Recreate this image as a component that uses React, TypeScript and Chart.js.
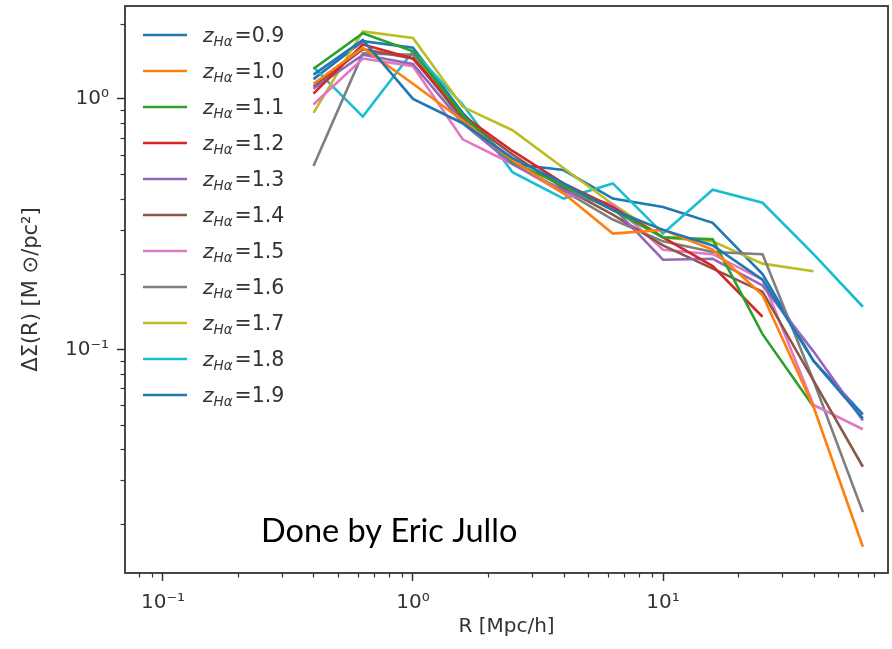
import React, { useEffect, useRef } from "react";
import { Chart, registerables } from "chart.js";

Chart.register(...registerables);

// Radii (Mpc/h) at which the profiles are sampled
const radii = [0.4, 0.63, 1.0, 1.58, 2.5, 4.0, 6.3, 10, 15.8, 25, 40, 63];

// Redshift labels for the legend
const redshifts = ["0.9", "1.0", "1.1", "1.2", "1.3", "1.4", "1.5", "1.6", "1.7", "1.8", "1.9"];

// ΔΣ(R) series, one per redshift bin
const dz09 = [1.25, 1.72, 1.0, 0.8, 0.58, 0.46, 0.36, 0.3, 0.26, 0.19, 0.09, 0.053];
const dz10 = [1.15, 1.6, 1.15, 0.82, 0.57, 0.42, 0.29, 0.3, 0.25, 0.165, 0.059, 0.0163];
const dz11 = [1.32, 1.83, 1.55, 0.86, 0.56, 0.45, 0.36, 0.28, 0.275, 0.115, 0.059];
const dz12 = [1.05, 1.65, 1.45, 0.86, 0.62, 0.46, 0.37, 0.28, 0.215, 0.135];
const dz13 = [1.1, 1.5, 1.38, 0.8, 0.55, 0.43, 0.37, 0.228, 0.23, 0.18, 0.098, 0.052];
const dz14 = [1.12, 1.58, 1.45, 0.84, 0.6, 0.44, 0.345, 0.26, 0.21, 0.17, 0.075, 0.034];
const dz15 = [0.95, 1.45, 1.35, 0.69, 0.55, 0.42, 0.38, 0.25, 0.24, 0.19, 0.06, 0.048];
const dz16 = [0.54, 1.52, 1.5, 0.82, 0.55, 0.43, 0.33, 0.27, 0.245, 0.24, 0.075, 0.0224];
const dz17 = [0.88, 1.86, 1.75, 0.93, 0.75, 0.53, 0.38, 0.28, 0.27, 0.22, 0.205];
const dz18 = [1.34, 0.85, 1.55, 0.95, 0.51, 0.4, 0.46, 0.29, 0.434, 0.385, 0.24, 0.148];
const dz19 = [1.2, 1.7, 1.6, 0.88, 0.55, 0.52, 0.4, 0.37, 0.32, 0.2, 0.09, 0.055];

const allSeries = [dz09, dz10, dz11, dz12, dz13, dz14, dz15, dz16, dz17, dz18, dz19];

const seriesColors = [
  "#1f77b4", "#ff7f0e", "#2ca02c", "#d62728", "#9467bd", "#8c564b",
  "#e377c2", "#7f7f7f", "#bcbd22", "#17becf", "#1f77b4",
];

// Axes
const xMin = 0.0705;
const xMax = 79.4;
const yMin = 0.0128;
const yMax = 2.35;
const xTickValues = [0.1, 1, 10];
const xTickLabels = ["10⁻¹", "10⁰", "10¹"];
const yTickValues = [0.1, 1];
const yTickLabels = ["10⁻¹", "10⁰"];
const xTitle = "R [Mpc/h]";
const yTitle = "ΔΣ(R) [M ⊙/pc²]";
const annotation = "Done by Eric Jullo";

const TEXT = "#333333";
const FONT = "'DejaVu Sans', sans-serif";

export default function App() {
  const canvasRef = useRef<HTMLCanvasElement | null>(null);

  useEffect(() => {
    document.body.style.margin = "0";
    const canvas = canvasRef.current;
    if (!canvas) return;

    const decorPlugin = {
      id: "decor",
      afterDraw(chart: any) {
        const { ctx, chartArea } = chart;
        const { left, top, right, bottom } = chartArea;
        const xs = chart.scales.x;
        const ys = chart.scales.y;
        ctx.save();

        // minor ticks
        ctx.strokeStyle = TEXT;
        ctx.lineWidth = 1.2;
        for (let e = -3; e <= 3; e++) {
          for (let m = 2; m <= 9; m++) {
            const v = m * Math.pow(10, e);
            if (v > xs.min && v < xs.max) {
              const px = Math.round(xs.getPixelForValue(v)) + 0.5;
              ctx.beginPath();
              ctx.moveTo(px, bottom);
              ctx.lineTo(px, bottom + 4.5);
              ctx.stroke();
            }
            if (v > ys.min && v < ys.max) {
              const py = Math.round(ys.getPixelForValue(v)) + 0.5;
              ctx.beginPath();
              ctx.moveTo(left, py);
              ctx.lineTo(left - 4.5, py);
              ctx.stroke();
            }
          }
        }

        // frame
        ctx.strokeStyle = TEXT;
        ctx.lineWidth = 1.8;
        ctx.strokeRect(left, top, right - left, bottom - top);

        // legend
        chart.data.datasets.forEach((ds: any, i: number) => {
          const cy = top + 29 + 36 * i;
          ctx.strokeStyle = ds.borderColor;
          ctx.lineWidth = 2.6;
          ctx.beginPath();
          ctx.moveTo(left + 18, cy);
          ctx.lineTo(left + 62, cy);
          ctx.stroke();

          ctx.fillStyle = TEXT;
          ctx.textBaseline = "alphabetic";
          ctx.textAlign = "left";
          const base = cy + 7;
          let x = left + 78;
          ctx.font = `italic 20px ${FONT}`;
          ctx.fillText("z", x, base);
          x += ctx.measureText("z").width;
          ctx.font = `italic 13.5px ${FONT}`;
          ctx.fillText("Hα", x, base + 4);
          x += ctx.measureText("Hα").width + 2;
          ctx.font = `20.5px ${FONT}`;
          ctx.fillText("=" + redshifts[i], x, base);
        });

        // annotation
        ctx.fillStyle = "#000000";
        ctx.font = "32.5px Lato, 'Open Sans', sans-serif";
        ctx.textAlign = "left";
        ctx.textBaseline = "alphabetic";
        ctx.fillText(annotation, left + 136, bottom - 31);

        ctx.restore();
      },
    };

    const chart = new Chart(canvas, {
      type: "line",
      data: {
        datasets: allSeries.map((s, i) => ({
          label: "zHα=" + redshifts[i],
          data: s.map((v, j) => ({ x: radii[j], y: v })),
          borderColor: seriesColors[i],
          backgroundColor: seriesColors[i],
          borderWidth: 2.6,
          pointRadius: 0,
          tension: 0,
          fill: false,
        })),
      },
      options: {
        responsive: false,
        animation: false,
        events: [],
        layout: { padding: { left: 0, top: 6, right: 4, bottom: 0 } },
        plugins: {
          legend: { display: false },
          tooltip: { enabled: false },
        },
        scales: {
          x: {
            type: "logarithmic",
            min: xMin,
            max: xMax,
            afterBuildTicks: (s: any) => {
              s.ticks = xTickValues.map((v) => ({ value: v }));
            },
            afterFit: (s: any) => {
              s.height = 76;
              s.paddingLeft = 0;
              s.paddingRight = 0;
            },
            ticks: {
              autoSkip: false,
              maxRotation: 0,
              padding: 10,
              color: TEXT,
              font: { family: FONT, size: 20 },
              callback: (v: any) => {
                const k = xTickValues.indexOf(Number(v));
                return k >= 0 ? xTickLabels[k] : "";
              },
            },
            grid: {
              drawOnChartArea: false,
              drawTicks: true,
              tickLength: 8,
              tickColor: TEXT,
              tickWidth: 1.5,
            },
            border: { display: false },
            title: {
              display: true,
              text: xTitle,
              color: TEXT,
              font: { family: FONT, size: 20 },
              padding: { top: 0, bottom: 10 },
            },
          },
          y: {
            type: "logarithmic",
            min: yMin,
            max: yMax,
            afterBuildTicks: (s: any) => {
              s.ticks = yTickValues.map((v) => ({ value: v }));
            },
            afterFit: (s: any) => {
              s.width = 125;
              s.paddingTop = 0;
              s.paddingBottom = 0;
            },
            ticks: {
              autoSkip: false,
              padding: 8,
              color: TEXT,
              font: { family: FONT, size: 20 },
              callback: (v: any) => {
                const k = yTickValues.indexOf(Number(v));
                return k >= 0 ? yTickLabels[k] : "";
              },
            },
            grid: {
              drawOnChartArea: false,
              drawTicks: true,
              tickLength: 8,
              tickColor: TEXT,
              tickWidth: 1.5,
            },
            border: { display: false },
            title: {
              display: true,
              text: yTitle,
              color: TEXT,
              font: { family: FONT, size: 21 },
              padding: { top: 19, bottom: 0 },
            },
          },
        },
      },
      plugins: [decorPlugin],
    } as any);

    return () => chart.destroy();
  }, []);

  return (
    <div style={{ position: "absolute", left: 0, top: 0, width: 892, height: 649, background: "#ffffff" }}>
      <canvas ref={canvasRef} width={892} height={649} style={{ display: "block" }} />
    </div>
  );
}
